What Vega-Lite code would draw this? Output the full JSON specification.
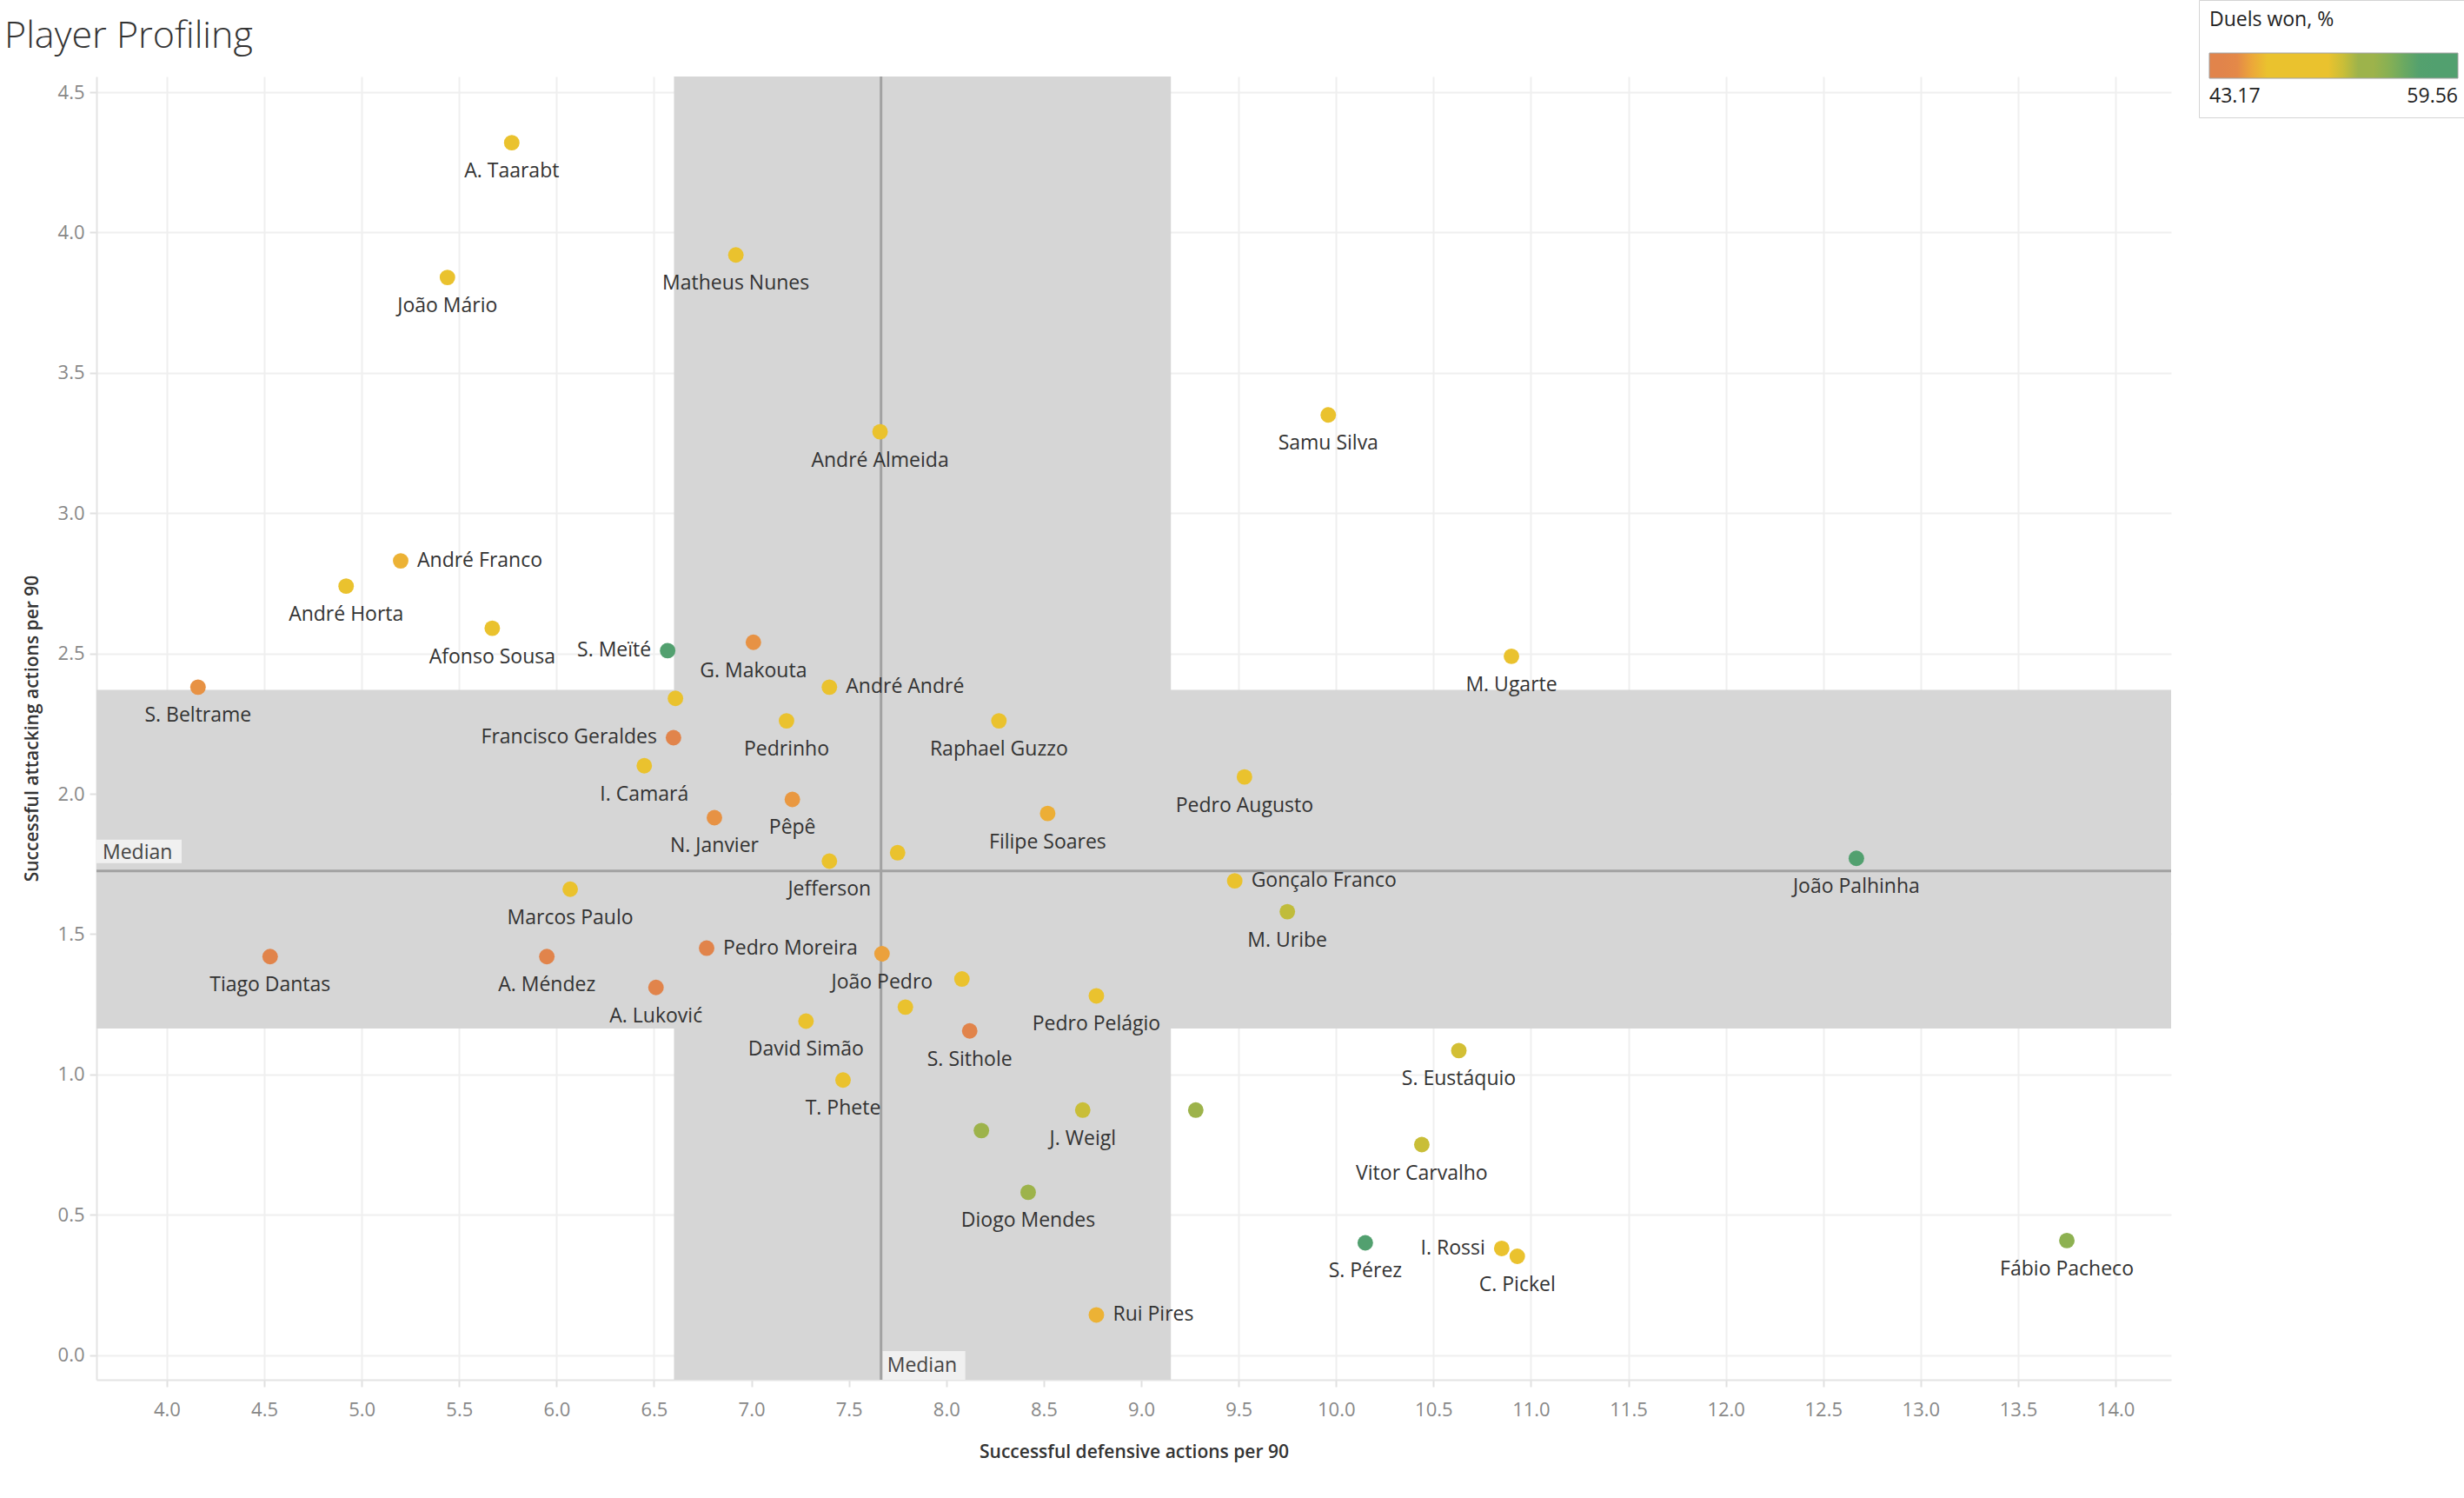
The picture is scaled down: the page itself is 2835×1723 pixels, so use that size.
{
  "$schema": "https://vega.github.io/schema/vega-lite/v6.json",
  "width": 2387,
  "height": 1499,
  "autosize": {"type": "none"},
  "padding": {"left": 111, "top": 88, "right": 337, "bottom": 136},
  "background": "white",
  "title": {
    "text": "Player Profiling",
    "anchor": "start",
    "frame": "group",
    "dx": -106,
    "offset": -98,
    "baseline": "alphabetic",
    "font": "Open Sans",
    "fontSize": 43,
    "fontWeight": 300,
    "color": "#333333"
  },
  "config": {
    "view": {"stroke": null},
    "axis": {
      "labelFont": "Open Sans",
      "labelFontSize": 22,
      "labelColor": "#888888",
      "titleFont": "Open Sans",
      "titleFontSize": 21,
      "titleFontWeight": 600,
      "titleColor": "#333333",
      "gridColor": "#efefef",
      "gridWidth": 2,
      "domainColor": "#e4e4e4",
      "domainWidth": 2,
      "tickColor": "#e0e0e0",
      "tickWidth": 2,
      "tickSize": 8,
      "zindex": 1
    }
  },
  "data": {
    "values": [
      {"player": "A. Taarabt", "def": 5.77, "att": 4.32, "duels": 49.5},
      {"player": "Matheus Nunes", "def": 6.92, "att": 3.92, "duels": 49.0},
      {"player": "João Mário", "def": 5.44, "att": 3.84, "duels": 49.5},
      {"player": "André Almeida", "def": 7.66, "att": 3.29, "duels": 49.0},
      {"player": "Samu Silva", "def": 9.96, "att": 3.35, "duels": 49.0},
      {"player": "André Franco", "def": 5.20, "att": 2.83, "duels": 46.3},
      {"player": "André Horta", "def": 4.92, "att": 2.74, "duels": 49.0},
      {"player": "Afonso Sousa", "def": 5.67, "att": 2.59, "duels": 49.0},
      {"player": "S. Meïté", "def": 6.57, "att": 2.51, "duels": 58.8},
      {"player": "G. Makouta", "def": 7.01, "att": 2.54, "duels": 45.3},
      {"player": "M. Ugarte", "def": 10.90, "att": 2.49, "duels": 49.0},
      {"player": "S. Beltrame", "def": 4.16, "att": 2.38, "duels": 45.3},
      {"player": "André André", "def": 7.40, "att": 2.38, "duels": 49.0},
      {"player": "", "def": 6.61, "att": 2.34, "duels": 49.0},
      {"player": "Francisco Geraldes", "def": 6.60, "att": 2.20, "duels": 44.2},
      {"player": "I. Camará", "def": 6.45, "att": 2.10, "duels": 49.0},
      {"player": "N. Janvier", "def": 6.81, "att": 1.915, "duels": 45.3},
      {"player": "Pedrinho", "def": 7.18, "att": 2.26, "duels": 49.0},
      {"player": "Raphael Guzzo", "def": 8.27, "att": 2.26, "duels": 49.0},
      {"player": "Pêpê", "def": 7.21, "att": 1.98, "duels": 45.5},
      {"player": "Filipe Soares", "def": 8.52, "att": 1.93, "duels": 46.2},
      {"player": "Pedro Augusto", "def": 9.53, "att": 2.06, "duels": 49.0},
      {"player": "Jefferson", "def": 7.40, "att": 1.76, "duels": 49.0},
      {"player": "", "def": 7.75, "att": 1.79, "duels": 49.0},
      {"player": "Gonçalo Franco", "def": 9.48, "att": 1.69, "duels": 49.0},
      {"player": "João Palhinha", "def": 12.67, "att": 1.77, "duels": 59.56},
      {"player": "Marcos Paulo", "def": 6.07, "att": 1.66, "duels": 49.0},
      {"player": "M. Uribe", "def": 9.75, "att": 1.58, "duels": 52.2},
      {"player": "Tiago Dantas", "def": 4.53, "att": 1.42, "duels": 43.5},
      {"player": "A. Méndez", "def": 5.95, "att": 1.42, "duels": 43.8},
      {"player": "Pedro Moreira", "def": 6.77, "att": 1.45, "duels": 43.6},
      {"player": "João Pedro", "def": 7.67, "att": 1.43, "duels": 45.8},
      {"player": "A. Luković", "def": 6.51, "att": 1.31, "duels": 43.17},
      {"player": "", "def": 8.08, "att": 1.34, "duels": 50.5},
      {"player": "Pedro Pelágio", "def": 8.77, "att": 1.28, "duels": 49.0},
      {"player": "", "def": 7.79, "att": 1.24, "duels": 49.0},
      {"player": "David Simão", "def": 7.28, "att": 1.19, "duels": 49.0},
      {"player": "S. Sithole", "def": 8.12, "att": 1.155, "duels": 43.9},
      {"player": "S. Eustáquio", "def": 10.63, "att": 1.085, "duels": 51.8},
      {"player": "T. Phete", "def": 7.47, "att": 0.98, "duels": 49.0},
      {"player": "J. Weigl", "def": 8.70, "att": 0.873, "duels": 52.0},
      {"player": "", "def": 9.28, "att": 0.873, "duels": 53.8},
      {"player": "", "def": 8.18, "att": 0.80, "duels": 54.3},
      {"player": "Vitor Carvalho", "def": 10.44, "att": 0.75, "duels": 52.0},
      {"player": "Diogo Mendes", "def": 8.42, "att": 0.58, "duels": 54.3},
      {"player": "S. Pérez", "def": 10.15, "att": 0.40, "duels": 59.0},
      {"player": "Fábio Pacheco", "def": 13.75, "att": 0.408, "duels": 54.8},
      {"player": "I. Rossi", "def": 10.85, "att": 0.38, "duels": 49.0},
      {"player": "C. Pickel", "def": 10.93, "att": 0.352, "duels": 49.0},
      {"player": "Rui Pires", "def": 8.77, "att": 0.143, "duels": 46.3}
    ]
  },
  "layer": [
    {
      "transform": [{"aggregate": [{"op": "q1", "field": "def", "as": "q1x"}, {"op": "q3", "field": "def", "as": "q3x"}]}],
      "mark": {"type": "rect", "color": "#d6d6d6"},
      "encoding": {
        "x": {"field": "q1x", "type": "quantitative", "scale": {"domain": [3.639, 14.285], "nice": false, "zero": false}},
        "x2": {"field": "q3x"}
      }
    },
    {
      "transform": [{"aggregate": [{"op": "q1", "field": "att", "as": "q1y"}, {"op": "q3", "field": "att", "as": "q3y"}]}],
      "mark": {"type": "rect", "color": "#d6d6d6"},
      "encoding": {
        "y": {"field": "q1y", "type": "quantitative", "scale": {"domain": [-0.088, 4.556], "nice": false, "zero": false}},
        "y2": {"field": "q3y"}
      }
    },
    {
      "transform": [{"aggregate": [{"op": "median", "field": "def", "as": "mx"}]}],
      "mark": {"type": "rule", "color": "#a2a2a2", "strokeWidth": 3},
      "encoding": {
        "x": {"field": "mx", "type": "quantitative", "scale": {"domain": [3.639, 14.285], "nice": false, "zero": false}}
      }
    },
    {
      "transform": [{"aggregate": [{"op": "median", "field": "att", "as": "my"}]}],
      "mark": {"type": "rule", "color": "#a2a2a2", "strokeWidth": 3},
      "encoding": {
        "y": {"field": "my", "type": "quantitative", "scale": {"domain": [-0.088, 4.556], "nice": false, "zero": false}}
      }
    },
    {
      "transform": [{"aggregate": [{"op": "median", "field": "att", "as": "my"}]}],
      "mark": {"type": "rect", "color": "#f0f0f0", "x2Offset": 98, "yOffset": -36, "y2Offset": -9},
      "encoding": {
        "x": {"datum": 3.639, "type": "quantitative", "scale": {"domain": [3.639, 14.285], "nice": false, "zero": false}},
        "x2": {"datum": 3.639},
        "y": {"field": "my", "type": "quantitative", "scale": {"domain": [-0.088, 4.556], "nice": false, "zero": false}},
        "y2": {"field": "my"}
      }
    },
    {
      "transform": [{"aggregate": [{"op": "median", "field": "att", "as": "my"}]}],
      "mark": {"type": "text", "text": "Median", "align": "left", "baseline": "middle", "dx": 7, "dy": -21, "font": "Open Sans", "fontSize": 23, "color": "#444444"},
      "encoding": {
        "x": {"datum": 3.639, "type": "quantitative", "scale": {"domain": [3.639, 14.285], "nice": false, "zero": false}},
        "y": {"field": "my", "type": "quantitative", "scale": {"domain": [-0.088, 4.556], "nice": false, "zero": false}}
      }
    },
    {
      "transform": [{"aggregate": [{"op": "median", "field": "def", "as": "mx"}]}],
      "mark": {"type": "rect", "color": "#f0f0f0", "xOffset": 2, "x2Offset": 97, "y2Offset": -33},
      "encoding": {
        "x": {"field": "mx", "type": "quantitative", "scale": {"domain": [3.639, 14.285], "nice": false, "zero": false}},
        "x2": {"field": "mx"},
        "y": {"datum": -0.088, "type": "quantitative", "scale": {"domain": [-0.088, 4.556], "nice": false, "zero": false}},
        "y2": {"datum": -0.088}
      }
    },
    {
      "transform": [{"aggregate": [{"op": "median", "field": "def", "as": "mx"}]}],
      "mark": {"type": "text", "text": "Median", "align": "left", "baseline": "middle", "dx": 7, "dy": -16, "font": "Open Sans", "fontSize": 23, "color": "#444444"},
      "encoding": {
        "x": {"field": "mx", "type": "quantitative", "scale": {"domain": [3.639, 14.285], "nice": false, "zero": false}},
        "y": {"datum": -0.088, "type": "quantitative", "scale": {"domain": [-0.088, 4.556], "nice": false, "zero": false}}
      }
    },
    {
      "mark": {"type": "circle", "size": 320, "opacity": 1},
      "encoding": {
        "x": {
          "field": "def", "type": "quantitative",
          "scale": {"domain": [3.639, 14.285], "nice": false, "zero": false},
          "axis": {"title": "Successful defensive actions per 90", "values": [4, 4.5, 5, 5.5, 6, 6.5, 7, 7.5, 8, 8.5, 9, 9.5, 10, 10.5, 11, 11.5, 12, 12.5, 13, 13.5, 14], "format": ".1f", "labelPadding": 16, "titlePadding": 27}
        },
        "y": {
          "field": "att", "type": "quantitative",
          "scale": {"domain": [-0.088, 4.556], "nice": false, "zero": false},
          "axis": {"title": "Successful attacking actions per 90", "values": [0, 0.5, 1, 1.5, 2, 2.5, 3, 3.5, 4, 4.5], "format": ".1f", "labelPadding": 6, "titlePadding": 19}
        },
        "color": {
          "field": "duels", "type": "quantitative",
          "scale": {
            "domain": [43.17, 44.81, 46.78, 51.37, 53.0, 54.3, 57.1, 59.56],
            "range": ["#e1844b", "#e1844b", "#eac22e", "#eac22e", "#9db34b", "#9db34b", "#52a06f", "#52a06f"]
          },
          "legend": {
            "title": "Duels won, %",
            "orient": "none",
            "legendX": 2419,
            "legendY": -88,
            "direction": "horizontal",
            "gradientLength": 286,
            "gradientThickness": 29,
            "gradientStrokeColor": "#a0a0a0",
            "gradientStrokeWidth": 1,
            "values": [43.17, 59.56],
            "format": ".2f",
            "padding": 12,
            "strokeColor": "#d4d4d4",
            "fillColor": "#ffffff",
            "titleFont": "Open Sans",
            "titleFontSize": 23,
            "titleFontWeight": "normal",
            "titleColor": "#222222",
            "titlePadding": 26,
            "labelFont": "Open Sans",
            "labelFontSize": 23,
            "labelColor": "#222222",
            "labelOffset": 10
          }
        }
      }
    },
    {
      "transform": [
        {"filter": "isValid(datum.player) && datum.player != ''"},
        {"filter": {"not": {"field": "player", "oneOf": ["André Franco", "André André", "Gonçalo Franco", "Pedro Moreira", "Rui Pires", "S. Meïté", "Francisco Geraldes", "I. Rossi"]}}}
      ],
      "mark": {"type": "text", "align": "center", "baseline": "middle", "dy": 33, "font": "Open Sans", "fontSize": 23, "color": "#333333"},
      "encoding": {
        "x": {"field": "def", "type": "quantitative", "scale": {"domain": [3.639, 14.285], "nice": false, "zero": false}},
        "y": {"field": "att", "type": "quantitative", "scale": {"domain": [-0.088, 4.556], "nice": false, "zero": false}},
        "text": {"field": "player"}
      }
    },
    {
      "transform": [{"filter": {"field": "player", "oneOf": ["André Franco", "André André", "Gonçalo Franco", "Pedro Moreira", "Rui Pires"]}}],
      "mark": {"type": "text", "align": "left", "baseline": "middle", "dx": 19, "font": "Open Sans", "fontSize": 23, "color": "#333333"},
      "encoding": {
        "x": {"field": "def", "type": "quantitative", "scale": {"domain": [3.639, 14.285], "nice": false, "zero": false}},
        "y": {"field": "att", "type": "quantitative", "scale": {"domain": [-0.088, 4.556], "nice": false, "zero": false}},
        "text": {"field": "player"}
      }
    },
    {
      "transform": [{"filter": {"field": "player", "oneOf": ["S. Meïté", "Francisco Geraldes", "I. Rossi"]}}],
      "mark": {"type": "text", "align": "right", "baseline": "middle", "dx": -19, "font": "Open Sans", "fontSize": 23, "color": "#333333"},
      "encoding": {
        "x": {"field": "def", "type": "quantitative", "scale": {"domain": [3.639, 14.285], "nice": false, "zero": false}},
        "y": {"field": "att", "type": "quantitative", "scale": {"domain": [-0.088, 4.556], "nice": false, "zero": false}},
        "text": {"field": "player"}
      }
    }
  ]
}
